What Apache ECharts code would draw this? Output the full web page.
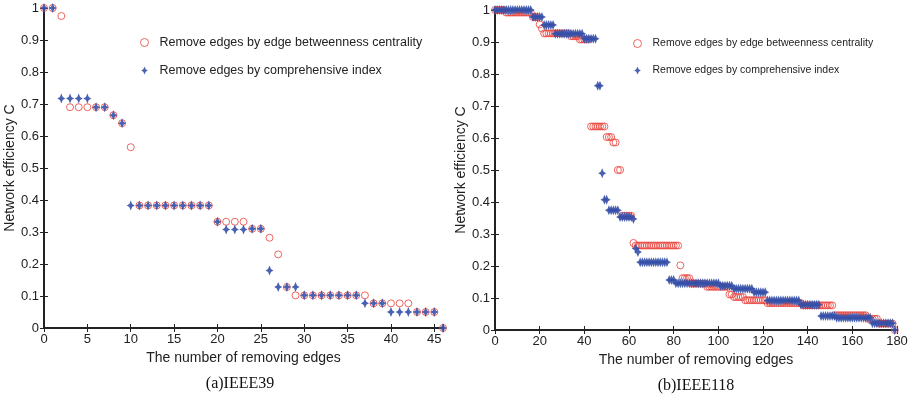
<!DOCTYPE html>
<html><head><meta charset="utf-8">
<script src="https://cdn.jsdelivr.net/npm/echarts@6/dist/echarts.min.js"></script>
<style>html,body{margin:0;padding:0;background:#fff}#c{width:913px;height:404px}</style>
</head><body><div id="c"></div>
<script>
// IEEE39: x = number of removed edges (index 0..46)
const ieee39Betweenness = [1,1,0.975,0.69,0.69,0.69,0.69,0.69,0.665,0.64,0.565,
 0.383,0.383,0.383,0.383,0.383,0.383,0.383,0.383,0.383,
 0.332,0.332,0.332,0.332,0.31,0.31,0.282,0.23,0.128,0.102,
 0.102,0.102,0.102,0.102,0.102,0.102,0.102,0.102,0.077,0.077,0.077,0.077,0.077,0.05,0.05,0.05,0];
const ieee39Comprehensive = [1,1,0.717,0.717,0.717,0.717,0.69,0.69,0.665,0.64,0.383,
 0.383,0.383,0.383,0.383,0.383,0.383,0.383,0.383,0.383,
 0.332,0.308,0.308,0.308,0.31,0.31,0.18,0.128,0.128,0.128,
 0.102,0.102,0.102,0.102,0.102,0.102,0.102,0.077,0.077,0.077,0.05,0.05,0.05,0.05,0.05,0.05,0];
// IEEE118: x = index 0..179
const ieee118Betweenness = [
 1,1,1,1,1,
 0.992,0.992,0.992,0.992,0.992,0.992,0.992,0.992,0.992,0.992,0.992,0.992,
 0.978,0.978,0.978,0.955,0.942,
 0.927,0.927,0.927,0.927,0.927,0.927,0.927,0.927,0.927,0.927,0.927,0.927,
 0.918,0.918,0.918,0.918,
 0.908,0.908,0.908,0.908,0.908,
 0.636,0.636,0.636,0.636,0.636,0.636,0.636,
 0.603,0.603,0.603,0.586,0.586,0.5,0.5,
 0.357,0.357,0.357,0.357,0.357,0.272,
 0.264,0.264,0.264,0.264,0.264,0.264,0.264,0.264,0.264,0.264,0.264,0.264,0.264,0.264,0.264,0.264,0.264,0.264,0.264,0.264,
 0.202,0.162,0.162,0.162,0.162,
 0.145,0.145,0.145,0.145,0.145,0.145,0.145,
 0.135,0.135,0.135,0.135,0.135,0.135,0.135,0.135,0.135,0.135,
 0.111,0.111,0.103,0.103,0.103,0.103,0.103,
 0.093,0.093,0.093,0.093,0.093,0.093,0.093,0.093,0.093,0.093,
 0.084,0.084,0.084,0.084,0.084,0.084,0.084,0.084,0.084,0.084,0.084,0.084,0.084,0.084,0.084,0.084,
 0.077,0.077,0.077,0.077,0.077,0.077,0.077,0.077,0.077,0.077,0.077,0.077,0.077,0.077,
 0.046,0.046,0.046,0.046,0.046,0.046,0.046,0.046,0.046,0.046,0.046,0.046,0.046,0.046,0.046,
 0.035,0.035,0.035,0.035,0.035,
 0.02,0.02,0.02,0.02,0.02,0.02,0.02,0];
const ieee118Comprehensive = [
 1,1,1,1,1,1,1,1,1,1,1,1,1,1,1,1,1,
 0.978,0.978,0.978,0.978,0.978,
 0.953,0.953,0.953,0.953,0.953,
 0.926,0.926,0.926,0.926,0.926,0.926,0.926,0.926,0.926,0.926,0.926,0.926,0.926,
 0.91,0.91,0.91,0.91,0.91,0.91,
 0.763,0.763,0.49,0.407,0.407,
 0.374,0.374,0.374,0.374,0.374,
 0.353,0.353,0.353,0.353,0.353,0.353,0.347,0.255,0.244,
 0.212,0.212,0.212,0.212,0.212,0.212,0.212,0.212,0.212,0.212,0.212,0.212,0.212,
 0.156,0.156,0.156,
 0.146,0.146,0.146,0.146,0.146,0.146,0.146,0.146,0.146,0.146,0.146,0.146,0.146,0.146,0.146,0.146,0.146,0.146,0.146,0.146,
 0.138,0.138,0.138,0.138,0.138,0.138,
 0.129,0.129,0.129,0.129,0.129,0.129,0.129,0.129,0.129,
 0.118,0.118,0.118,0.118,0.118,0.118,
 0.092,0.092,0.092,0.092,0.092,0.092,0.092,0.092,0.092,0.092,0.092,0.092,0.092,0.092,0.092,
 0.079,0.079,0.079,0.079,0.079,0.079,0.079,0.079,0.079,
 0.044,0.044,0.044,0.044,0.044,0.044,0.044,
 0.038,0.038,0.038,0.038,0.038,0.038,0.038,0.038,0.038,0.038,0.038,0.038,0.038,0.038,0.038,0.038,
 0.021,0.021,0.021,0.021,0.021,0.021,0.021,0.021,0.021,0.021,0];
const seriesNames = ['Remove edges by edge betweenness centrality','Remove edges by comprehensive index'];
const captions = ['(a)IEEE39','(b)IEEE118'];
const xTitle = 'The number of removing edges';
const yTitle = 'Network efficiency C';

const FONT = 'Liberation Sans, Arial, sans-serif';
const RED = '#e8403a', BLUE = '#3550a8';
const STAR = 'path://M0,-6L1.8,-1.8L5,0L1.8,1.8L0,6L-1.8,1.8L-5,0L-1.8,-1.8Z';
const pairs = arr => arr.map((v,i)=>[i,v]);
const yFmt = v => { const r = Math.round(v*10)/10; return r===0?'0':(r===1?'1':r.toFixed(1)); };

function axesFor(gi, xmax, xint, nameGapY){
  const base = {gridIndex:gi, min:0, max:xmax, interval:xint};
  return {
    x:[
      Object.assign({}, base, {type:'value', position:'bottom', name:xTitle, nameLocation:'middle', nameGap:22,
        nameTextStyle:{fontFamily:FONT, fontSize:14, color:'#222'},
        axisLine:{lineStyle:{color:'#222', width:2}}, axisTick:{inside:true, length:4, lineStyle:{color:'#222'}},
        axisLabel:{fontFamily:FONT, fontSize:13, color:'#222', margin:5, formatter:v=> (v%xint===0? String(v):'')},
        splitLine:{show:false}}),
      Object.assign({}, base, {type:'value', position:'top',
        axisLine:{lineStyle:{color:'#222', width:1}}, axisTick:{inside:true, length:4, lineStyle:{color:'#222'}},
        axisLabel:{show:false}, splitLine:{show:false}})
    ],
    y:[
      {type:'value', gridIndex:gi, min:0, max:1, interval:0.1, position:'left', name:yTitle, nameLocation:'middle', nameGap:nameGapY,
        nameTextStyle:{fontFamily:FONT, fontSize:14, color:'#222'},
        axisLine:{lineStyle:{color:'#222', width:2}}, axisTick:{inside:true, length:4, lineStyle:{color:'#222'}},
        axisLabel:{fontFamily:FONT, fontSize:13, color:'#222', margin:5, formatter:yFmt}, splitLine:{show:false}},
      {type:'value', gridIndex:gi, min:0, max:1, interval:0.1, position:'right',
        axisLine:{lineStyle:{color:'#222', width:1}}, axisTick:{inside:true, length:4, lineStyle:{color:'#222'}},
        axisLabel:{show:false}, splitLine:{show:false}}
    ]
  };
}
const a0 = axesFor(0, 46, 5, 26), a1 = axesFor(1, 180, 20, 26);

function circ(data, xi, yi){ return {type:'scatter', name:seriesNames[0], xAxisIndex:xi, yAxisIndex:yi, data:pairs(data),
  symbol:'circle', symbolSize:7, itemStyle:{color:'rgba(255,255,255,0)', borderColor:RED, borderWidth:1}, z:2, silent:true, animation:false}; }
function star(data, xi, yi){ return {type:'scatter', name:seriesNames[1], xAxisIndex:xi, yAxisIndex:yi, data:pairs(data),
  symbol:STAR, symbolSize:[8,10], itemStyle:{color:BLUE, opacity:0.9}, z:3, silent:true, animation:false}; }

const legendCommon = {orient:'vertical', itemWidth:20, itemHeight:8, selectedMode:false,
  itemStyle:{borderWidth:1}, data:seriesNames};
const option = {
  backgroundColor:'#fff', animation:false,
  grid:[{left:44, top:8, width:399, height:320}, {left:495, top:10, width:402, height:320}],
  xAxis:[a0.x[0], a0.x[1], a1.x[0], a1.x[1]],
  yAxis:[a0.y[0], a0.y[1], a1.y[0], a1.y[1]],
  legend:[
    Object.assign({}, legendCommon, {left:135, top:31, itemGap:15, textStyle:{fontFamily:FONT, fontSize:12.5, color:'#222'}}),
    Object.assign({}, legendCommon, {left:628, top:33, itemGap:16, textStyle:{fontFamily:FONT, fontSize:10.5, color:'#222'}})
  ],
  series:[circ(ieee39Betweenness,0,0), star(ieee39Comprehensive,0,0),
          circ(ieee118Betweenness,2,2), star(ieee118Comprehensive,2,2)],
  graphic:[
    {type:'text', style:{text:captions[0], font:'16px "Liberation Serif", serif', fill:'#111', x:240, y:384, align:'center', verticalAlign:'middle'}},
    {type:'text', style:{text:captions[1], font:'16px "Liberation Serif", serif', fill:'#111', x:696, y:386, align:'center', verticalAlign:'middle'}}
  ]
};
const chart = echarts.init(document.getElementById('c'), null, {renderer:'canvas'});
chart.setOption(option);
</script></body></html>
